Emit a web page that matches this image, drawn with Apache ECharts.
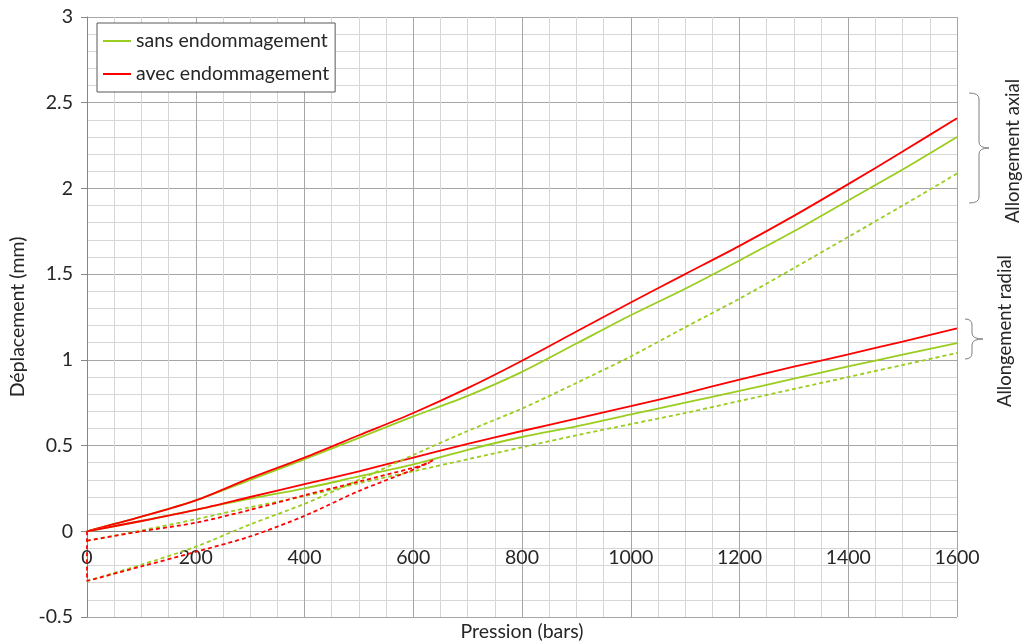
<!DOCTYPE html>
<html>
<head>
<meta charset="utf-8">
<script src="https://cdn.jsdelivr.net/npm/echarts@6/dist/echarts.min.js"></script>
<style>html,body{margin:0;padding:0;background:#fff;}#c{width:1022px;height:642px;}</style>
</head>
<body>
<div id="c"></div>
<script>
// ---- data ----
const pressures = [0,100,200,300,400,500,600,700,800,900,1000,1100,1200,1300,1400,1500,1600];
const axialSans  = [0,0.085,0.18,0.30,0.42,0.545,0.67,0.79,0.93,1.095,1.26,1.415,1.58,1.75,1.93,2.11,2.30];
const axialAvec  = [0,0.085,0.18,0.31,0.43,0.56,0.69,0.835,0.995,1.165,1.335,1.50,1.665,1.84,2.025,2.215,2.41];
const radialSans = [0,0.06,0.125,0.19,0.25,0.32,0.39,0.475,0.55,0.612,0.682,0.75,0.819,0.89,0.962,1.03,1.098];
const radialAvec = [0,0.06,0.125,0.20,0.275,0.35,0.43,0.51,0.585,0.657,0.73,0.805,0.885,0.96,1.032,1.107,1.184];
const axialSansDash  = [-0.29,-0.195,-0.09,0.04,0.16,0.30,0.445,0.585,0.716,0.865,1.02,1.19,1.357,1.535,1.717,1.90,2.087];
const radialSansDash = [-0.055,0.005,0.07,0.14,0.205,0.28,0.35,0.42,0.49,0.56,0.625,0.69,0.76,0.83,0.90,0.97,1.04];
const dashAvecX       = [0,0,100,200,300,400,500,600,640];
const axialAvecDash   = [0,-0.29,-0.205,-0.12,-0.03,0.09,0.235,0.36,0.42];
const radialAvecDashX = [0,100,200,300,400,500,600,630];
const radialAvecDash  = [-0.055,0.0,0.05,0.125,0.21,0.29,0.37,0.40];
const xTicks = {min:0, max:1600, interval:200};
const yTicks = {min:-0.5, max:3, interval:0.5};
const labels = {sans:'sans endommagement', avec:'avec endommagement'};

const GREEN = '#9acd1e', RED = '#ff0000';
const zip = (xs, ys) => xs.map((x, i) => [x, ys[i]]);
function line(name, xs, ys, color, dashed) {
  return {
    name: name, type: 'line', data: zip(xs, ys), showSymbol: false, symbol: 'none',
    smooth: 0.3, animation: false,
    lineStyle: {color: color, width: 1.8, type: dashed ? [4, 3] : 'solid'},
    itemStyle: {color: color}
  };
}
const FONT = 'Lato';
const FS = 19.5;
const TXT = '#262626';
const GRID = {left: 87, right: 65, top: 17, bottom: 25};
const plotH = 642 - GRID.top - GRID.bottom;
// place the x axis where y = 0 (the Excel axis crossing)
const xAxisOffset = -(0 - yTicks.min) / (yTicks.max - yTicks.min) * plotH;
const BR = {stroke: '#808080', lineWidth: 1, fill: null};
function brace(xl, xv, xt, yt, ym, yb) {
  const r = 6;
  return [
    {type: 'bezierCurve', silent: true, shape: {x1: xl, y1: yt, x2: xv, y2: yt + r, cpx1: xv, cpy1: yt}, style: BR},
    {type: 'line', silent: true, shape: {x1: xv, y1: yt + r, x2: xv, y2: ym - r}, style: BR},
    {type: 'bezierCurve', silent: true, shape: {x1: xv, y1: ym - r, x2: xt, y2: ym, cpx1: xv, cpy1: ym}, style: BR},
    {type: 'bezierCurve', silent: true, shape: {x1: xt, y1: ym, x2: xv, y2: ym + r, cpx1: xv, cpy1: ym}, style: BR},
    {type: 'line', silent: true, shape: {x1: xv, y1: ym + r, x2: xv, y2: yb - r}, style: BR},
    {type: 'bezierCurve', silent: true, shape: {x1: xv, y1: yb - r, x2: xl, y2: yb, cpx1: xv, cpy1: yb}, style: BR}
  ];
}
const chart = echarts.init(document.getElementById('c'), null, {renderer: 'canvas'});
chart.setOption({
  backgroundColor: '#fff',
  animation: false,
  textStyle: {fontFamily: FONT},
  grid: Object.assign({containLabel: false, outerBoundsMode: 'none'}, GRID),
  legend: {
    data: [labels.sans, labels.avec],
    orient: 'vertical', left: 97, top: 23,
    backgroundColor: '#fff', borderColor: '#595959', borderWidth: 1,
    padding: [7, 6, 7, 6], itemWidth: 28, itemHeight: 2, itemGap: 11,
    textStyle: {fontFamily: FONT, fontSize: FS, color: TXT, lineHeight: 22},
    icon: 'rect', itemStyle: {borderWidth: 0}
  },
  xAxis: {
    type: 'value', min: xTicks.min, max: xTicks.max, interval: xTicks.interval,
    position: 'bottom', offset: xAxisOffset,
    name: 'Pression (bars)', nameLocation: 'middle', nameGap: 90,
    nameTextStyle: {fontFamily: FONT, fontSize: FS, color: TXT},
    axisLine: {show: true, onZero: false, lineStyle: {color: '#868686', width: 1}},
    axisTick: {show: false},
    axisLabel: {fontFamily: FONT, fontSize: FS, color: TXT, margin: 16, formatter: v => String(v)},
    splitLine: {show: true, lineStyle: {color: '#a6a6a6', width: 1}},
    minorTick: {show: false, splitNumber: 4},
    minorSplitLine: {show: true, lineStyle: {color: '#d6d6d6', width: 1}}
  },
  yAxis: {
    type: 'value', min: yTicks.min, max: yTicks.max, interval: yTicks.interval,
    name: 'Déplacement (mm)', nameLocation: 'middle', nameGap: 58,
    nameTextStyle: {fontFamily: FONT, fontSize: FS, color: TXT},
    axisLine: {show: true, onZero: false, lineStyle: {color: '#868686', width: 1}},
    axisTick: {show: true, length: 6, lineStyle: {color: '#868686'}},
    axisLabel: {fontFamily: FONT, fontSize: FS, color: TXT, margin: 14, formatter: v => String(v)},
    splitLine: {show: true, lineStyle: {color: '#a6a6a6', width: 1}},
    minorTick: {show: false, splitNumber: 5},
    minorSplitLine: {show: true, lineStyle: {color: '#d6d6d6', width: 1}}
  },
  series: [
    line(labels.sans, pressures, axialSans, GREEN, false),
    line(labels.avec, pressures, axialAvec, RED, false),
    line(labels.sans, pressures, radialSans, GREEN, false),
    line(labels.avec, pressures, radialAvec, RED, false),
    line(labels.sans, pressures, axialSansDash, GREEN, true),
    line(labels.sans, pressures, radialSansDash, GREEN, true),
    line(labels.avec, dashAvecX, axialAvecDash, RED, true),
    line(labels.avec, radialAvecDashX, radialAvecDash, RED, true)
  ],
  graphic: [].concat(
    brace(969, 979, 989, 93, 148, 203),
    brace(965, 972, 983, 319, 339, 359),
    [
      {type: 'text', x: 1013, y: 151, rotation: Math.PI / 2,
       style: {text: 'Allongement axial', fontFamily: FONT, fontSize: 18.5, fill: TXT, textAlign: 'center', textVerticalAlign: 'middle'}},
      {type: 'text', x: 1005, y: 331, rotation: Math.PI / 2,
       style: {text: 'Allongement radial', fontFamily: FONT, fontSize: 18.5, fill: TXT, textAlign: 'center', textVerticalAlign: 'middle'}}
    ])
});
</script>
</body>
</html>
